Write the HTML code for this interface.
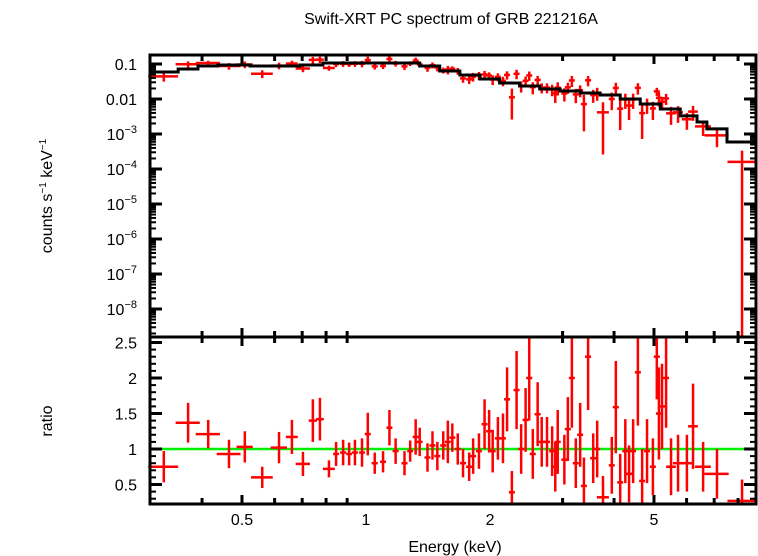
<!DOCTYPE html>
<html><head><meta charset="utf-8"><style>
body{margin:0;background:#fff}
svg{display:block;font-family:"Liberation Sans",sans-serif}
</style></head><body>
<svg id="chart" width="758" height="556" viewBox="0 0 758 556" xmlns="http://www.w3.org/2000/svg">
<text x="451" y="24" font-size="16" text-anchor="middle">Swift-XRT PC spectrum of GRB 221216A</text>
<text transform="translate(52,196) rotate(-90)" font-size="16" text-anchor="middle">counts s<tspan font-size="10" dy="-6">−1</tspan><tspan dy="6"> keV</tspan><tspan font-size="10" dy="-6">−1</tspan></text>
<text transform="translate(52,421) rotate(-90)" font-size="16" text-anchor="middle">ratio</text>
<text x="455" y="552" font-size="16" text-anchor="middle">Energy (keV)</text>
<g id="g-upper"></g>
<g id="g-lower"></g>
<g id="g-axes"></g>
</svg>
<script>
// model step edges (keV) and values (counts/s/keV)
const modelEdges=[0.299,0.350,0.391,0.437,0.523,0.691,0.786,1.35,1.51,1.69,1.89,2.11,2.36,2.64,2.96,3.31,3.70,4.14,4.63,5.18,5.79,6.36,6.72,7.52,8.85];
const modelValues=[0.059,0.072,0.088,0.094,0.088,0.094,0.107,0.088,0.063,0.0485,0.0373,0.0287,0.0235,0.0193,0.0169,0.0149,0.0130,0.0100,0.0072,0.0052,0.0033,0.0022,0.0014,0.00059];
// data: energy, half-width, ratio, ratio error
const energies=[0.323,0.370,0.414,0.465,0.508,0.560,0.615,0.661,0.703,0.743,0.773,0.813,0.846,0.880,0.910,0.940,0.978,1.01,1.05,1.10,1.14,1.18,1.24,1.28,1.32,1.35,1.41,1.45,1.49,1.54,1.58,
1.62,1.67,1.72,1.78,1.82,1.88,1.94,1.99,2.03,2.09,2.15,2.20,2.26,2.32,2.38,2.44,2.49,2.54,2.61,2.67,2.75,2.83,2.88,2.92,3.03,3.09,3.16,3.23,3.31,3.38,3.46,3.56,3.64,3.76,3.95,4.04,4.14,4.26,4.35,4.45,4.57,4.68,4.81,4.97,5.08,5.14,5.23,5.35,5.50,5.72,6.01,6.22,6.58,7.11,8.18];
const halfWidths=[0.027,0.025,0.028,0.031,0.023,0.034,0.028,0.022,0.028,0.017,0.017,0.027,0.014,0.015,0.015,0.016,0.016,0.017,0.018,0.018,0.019,0.02,0.021,0.021,0.022,0.022,0.023,0.024,0.025,0.026,0.026,
0.027,0.028,0.029,0.03,0.03,0.031,0.032,0.033,0.034,0.035,0.036,0.037,0.038,0.039,0.04,0.041,0.042,0.043,0.044,0.045,0.046,0.047,0.048,0.049,0.051,0.052,0.053,0.054,0.055,0.057,0.058,0.06,0.061,0.126,0.066,0.068,0.07,0.071,0.073,0.075,0.077,0.078,0.08,0.083,0.085,0.086,0.088,0.09,0.15,0.16,0.17,0.17,0.29,0.48,0.64];
const ratios=[0.75,1.37,1.21,0.93,1.03,0.6,1.02,1.17,0.79,1.4,1.42,0.72,0.93,0.95,0.93,0.95,0.95,1.21,0.8,0.82,1.3,0.97,0.8,0.97,1.17,1.1,0.88,1.05,0.9,1.05,1.1,
1.16,1.0,0.8,0.75,0.9,0.97,1.35,1.25,0.97,1.15,1.15,1.7,0.39,1.83,1.0,1.41,2.0,0.93,1.49,1.1,1.1,0.97,0.75,1.1,0.85,1.28,2.0,0.8,1.2,0.48,2.3,0.87,1.0,0.32,0.77,1.59,0.53,0.97,0.65,0.97,2.08,0.55,0.97,0.75,2.3,1.5,1.6,2.0,0.75,0.8,0.8,1.32,0.75,0.65,0.27];
const ratioErrs=[0.22,0.28,0.2,0.2,0.22,0.15,0.22,0.24,0.17,0.3,0.3,0.12,0.17,0.18,0.16,0.18,0.2,0.3,0.15,0.15,0.25,0.18,0.17,0.15,0.25,0.2,0.2,0.2,0.2,0.2,0.3,
0.2,0.22,0.2,0.2,0.25,0.25,0.35,0.3,0.3,0.3,0.35,0.45,0.3,0.55,0.35,0.45,0.6,0.35,0.45,0.35,0.35,0.35,0.35,0.45,0.35,0.45,0.7,0.35,0.45,0.4,0.75,0.35,0.4,0.3,0.4,0.65,0.4,0.45,0.4,0.45,0.75,0.45,0.45,0.4,0.6,0.65,0.6,0.7,0.4,0.4,0.4,0.6,0.35,0.35,0.3];
const upperTicks=["0.1","0.01","10|−3","10|−4","10|−5","10|−6","10|−7","10|−8"];
const ratioTicks=[2.5,2,1.5,1,0.5];
const xTickLabels=[0.5,1,2,5];

const NS="http://www.w3.org/2000/svg";
const X0=150,X1=756,YT=55,YM=337,YB=504;
const xs=e=>366+412*Math.log10(e);
const yu=v=>64-35*Math.log10(v/0.1);
const yr=r=>449-71*(r-1);
function mk(p,tag,a){const el=document.createElementNS(NS,tag);for(const k in a)el.setAttribute(k,a[k]);p.appendChild(el);return el;}
const gu=document.getElementById('g-upper'),gl=document.getElementById('g-lower'),ga=document.getElementById('g-axes');
const RED="#ff0000";
function modelAt(e){for(let i=0;i<modelValues.length;i++){if(e<modelEdges[i+1])return modelValues[i];}return modelValues[modelValues.length-1];}
// data in upper panel
energies.forEach((e,i)=>{
  const m=modelAt(e),c=m*ratios[i];
  const lo=c-m*ratioErrs[i],hi=c+m*ratioErrs[i];
  const x=xs(e),y=yu(c);
  const ylo=lo>0?Math.min(yu(lo),YM):YM;
  const h=mk(gu,'line',{x1:xs(e-halfWidths[i]),x2:Math.min(xs(e+halfWidths[i]),X1),y1:y,y2:y,stroke:RED,'stroke-width':2.5});
  
  
  const v=mk(gu,'line',{x1:x,x2:x,y1:Math.max(yu(hi),YT),y2:ylo,stroke:RED,'stroke-width':2.5});
  
  
});
// model steps
let d="";
modelValues.forEach((v,i)=>{const xa=xs(modelEdges[i]),xb=Math.min(xs(modelEdges[i+1]),X1),y=yu(v);d+=(i?"L":"M")+xa+","+y+"L"+xb+","+y;});
const mp=mk(gu,'path',{d:d,fill:'none',stroke:'#000','stroke-width':3});


// ratio panel
const one=mk(gl,'line',{x1:X0,x2:X1,y1:yr(1),y2:yr(1),stroke:'#00ee00','stroke-width':2.5});


energies.forEach((e,i)=>{
  const x=xs(e),y=yr(ratios[i]);
  const h=mk(gl,'line',{x1:xs(e-halfWidths[i]),x2:Math.min(xs(e+halfWidths[i]),X1),y1:y,y2:y,stroke:RED,'stroke-width':2.5});
  
  
  const v=mk(gl,'line',{x1:x,x2:x,y1:Math.max(yr(ratios[i]+ratioErrs[i]),YM),y2:Math.min(yr(ratios[i]-ratioErrs[i]),YB),stroke:RED,'stroke-width':2.5});
  
  
});
// frames
[[YT,YM],[YM,YB]].forEach(([a,b])=>{
  const r=mk(ga,'rect',{x:X0,y:a,width:X1-X0,height:b-a,fill:'none',stroke:'#000','stroke-width':3});
  
  
});
// x ticks
for(let k=3;k<=9;k++){
  [k/10,k].forEach(e=>{const x=xs(e);if(x<X0+1||x>X1-1)return;
    const major=xTickLabels.includes(e);const L=major?9:6;
    [[YT,1],[YM,1],[YM,-1],[YB,-1]].forEach(([y,s])=>{const t=mk(ga,'line',{x1:x,x2:x,y1:y,y2:y+s*L,stroke:'#000','stroke-width':3});});
  });
}
xTickLabels.forEach(e=>{const t=mk(ga,'text',{x:xs(e),y:YB+21,'font-size':16,'text-anchor':'middle'});t.textContent=String(e);
  });
// upper y ticks
upperTicks.forEach((lab,i)=>{
  const y=64+35*i;
  [X0,X1].forEach((x,j)=>{const s=j?-1:1;const t=mk(ga,'line',{x1:x,x2:x+s*12,y1:y,y2:y,stroke:'#000','stroke-width':3});
    for(let m=2;m<=9;m++){const ym=y+35*(1-Math.log10(m));if(ym<YT+1||ym>YM-1)continue;const t2=mk(ga,'line',{x1:x,x2:x+s*6,y1:ym,y2:ym,stroke:'#000','stroke-width':2});}});
  const t=mk(ga,'text',{x:X0-13,y:y+6,'font-size':16,'text-anchor':'end'});
  const parts=lab.split('|');t.textContent=parts[0];
  if(parts[1]){const s=mk(t,'tspan',{'font-size':11,dy:-7});s.textContent=parts[1];}
  
});
// ratio ticks
for(let r=0.3;r<=2.55;r+=0.1){const y=yr(r);const maj=Math.abs(r*2-Math.round(r*2))<0.01;
  [X0,X1].forEach((x,j)=>{const s=j?-1:1;const t=mk(ga,'line',{x1:x,x2:x+s*(maj?12:6),y1:y,y2:y,stroke:'#000','stroke-width':maj?3:2});});}
ratioTicks.forEach(r=>{const t=mk(ga,'text',{x:X0-13,y:yr(r)+6,'font-size':16,'text-anchor':'end'});t.textContent=String(r);
  });
</script>
</body></html>
